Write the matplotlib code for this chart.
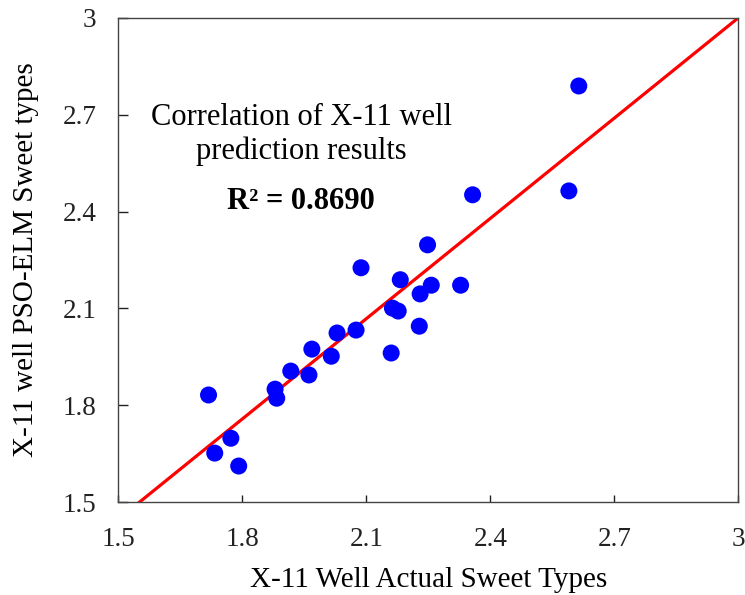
"""Scatter of predicted vs actual sweet types for well X-11."""
import matplotlib
matplotlib.use("Agg")
import matplotlib.pyplot as plt

plt.rcParams["font.family"] = ["Liberation Serif", "DejaVu Serif"]

# actual sweet types (x) and PSO-ELM predictions (y)
actual = [2.614, 2.590, 2.357, 2.248, 2.087, 2.182, 2.257, 2.328, 2.230, 2.163,
          2.177, 2.228, 2.075, 2.029, 2.160, 1.968, 2.015, 1.917, 1.961, 1.879,
          1.883, 1.718, 1.772, 1.733, 1.791]
predicted = [2.789, 2.464, 2.452, 2.297, 2.226, 2.189, 2.172, 2.172, 2.145, 2.101,
             2.092, 2.045, 2.033, 2.024, 1.962, 1.974, 1.952, 1.906, 1.894, 1.850,
             1.822, 1.832, 1.698, 1.652, 1.612]

# fitted line
fit_slope = 1.035
fit_intercept = -0.105
fit_x = [1.5, 3.0]

ticks = [1.5, 1.8, 2.1, 2.4, 2.7, 3.0]
tick_labels = ["1.5", "1.8", "2.1", "2.4", "2.7", "3"]

fig = plt.figure(figsize=(7.45, 5.95), dpi=100)
axe = fig.add_axes([0.159, 0.156, 0.832, 0.814])

axe.scatter(actual, predicted, s=150, color="#0000ff", edgecolors="none", zorder=3)
axe.plot(fit_x, [fit_slope * v + fit_intercept for v in fit_x], color="#ff0000", lw=2.3, zorder=2)

axe.set_xlim(1.5, 3.0)
axe.set_ylim(1.5, 3.0)
axe.set_xticks(ticks)
axe.set_xticklabels(tick_labels)
axe.set_yticks(ticks)
axe.set_yticklabels(tick_labels)
axe.tick_params(direction="in", width=1, labelsize=19.5, colors="#222222")
axe.tick_params(axis="x", length=5, pad=18)
axe.tick_params(axis="y", length=7, pad=16)
for spine in axe.spines.values():
    spine.set_color("#444444")
    spine.set_linewidth(1)

axe.set_xlabel("X-11 Well Actual Sweet Types", fontsize=21, labelpad=11)
axe.set_ylabel("X-11 well PSO-ELM Sweet types", fontsize=21, labelpad=17)

axe.text(0.295, 0.76, "Correlation of X-11 well\nprediction results", transform=axe.transAxes,
         ha="center", va="center", fontsize=22, linespacing=1.2)
axe.text(0.295, 0.62, "R² = 0.8690", transform=axe.transAxes, ha="center", va="center",
         fontsize=22, fontweight="bold")

fig.savefig("out.png", dpi=100)
